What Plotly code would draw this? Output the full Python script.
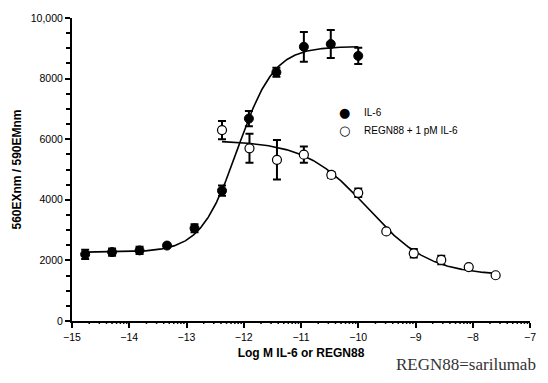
import numpy as np
import plotly.graph_objects as go

# Dose-response data (mean +/- SEM)
log_conc_il6 = [-14.77, -14.30, -13.82, -13.34, -12.86, -12.38, -11.91, -11.43, -10.95, -10.48, -10.00]
il6_signal = [2200, 2275, 2330, 2490, 3060, 4300, 6680, 8210, 9050, 9140, 8750]
il6_sem = [150, 120, 120, 40, 130, 170, 250, 150, 490, 460, 270]

log_conc_regn = [-12.38, -11.90, -11.42, -10.95, -10.47, -10.00, -9.51, -9.03, -8.55, -8.07, -7.60]
regn_signal = [6300, 5700, 5320, 5490, 4820, 4230, 2955, 2235, 2015, 1780, 1510]
regn_sem = [300, 480, 650, 270, 100, 140, 0, 140, 140, 0, 0]

series_names = ["IL-6", "REGN88 + 1 pM IL-6"]

# Four-parameter logistic fit parameters
il6_fit = dict(bottom=2270, top=9060, log_ec50=-12.11, hill=1.35)
regn_fit = dict(bottom=1500, top=5960, log_ec50=-9.84, hill=-0.8)

# Log-spaced minor ticks inside each decade
x_minor = [float(d + np.log10(k)) for d in range(-15, -7) for k in range(2, 10)]


def four_pl(x, bottom, top, log_ec50, hill):
    return bottom + (top - bottom) / (1 + 10 ** ((log_ec50 - x) * hill))


fig = go.Figure()

for xs, p in ((log_conc_il6, il6_fit), (log_conc_regn, regn_fit)):
    xf = np.linspace(min(xs), max(xs), 300)
    fig.add_trace(go.Scatter(x=xf.tolist(), y=four_pl(xf, **p).tolist(), mode="lines",
                             line=dict(color="black", width=1.6)))

err_style = dict(type="data", visible=True, color="black", thickness=2, width=4)

fig.add_trace(go.Scatter(
    x=log_conc_il6, y=il6_signal, mode="markers", name=series_names[0],
    error_y=dict(array=il6_sem, **err_style),
    marker=dict(symbol="circle", size=9, color="black", line=dict(color="black", width=1))))

fig.add_trace(go.Scatter(
    x=log_conc_regn, y=regn_signal, mode="markers", name=series_names[1],
    error_y=dict(array=regn_sem, **err_style),
    marker=dict(symbol="circle", size=9, color="white", line=dict(color="black", width=1.2))))

fig.update_layout(
    width=548, height=383,
    margin=dict(l=72, r=14, t=12, b=62),
    paper_bgcolor="white", plot_bgcolor="white",
    font=dict(family="Liberation Sans, Arial, sans-serif", size=10.5, color="black"),
    showlegend=False,
    xaxis=dict(range=[-15, -7], nticks=10,
               showgrid=False, zeroline=False, showline=True, linecolor="black", linewidth=2,
               ticks="outside", ticklen=5, tickwidth=2, tickcolor="black",
               title=dict(text="<span style='font-size:12px'><b>Log M IL-6 or REGN88</b></span>",
                          standoff=6)),
    yaxis=dict(range=[0, 10000], nticks=6, exponentformat="none", separatethousands=False,
               showgrid=False, zeroline=False, showline=True, linecolor="black", linewidth=2,
               ticks="outside", ticklen=5, tickwidth=2, tickcolor="black",
               minor=dict(ticks="outside", ticklen=4, tickwidth=1.5, tickcolor="black",
                          showgrid=False),
               title=dict(text="<span style='font-size:12px'><b>560EXnm / 590EMnm</b></span>",
                          standoff=6)),
)

# Log-decade minor tick marks on the x axis
for xm in x_minor:
    fig.add_shape(type="line", xref="x", yref="paper", x0=xm, x1=xm, y0=0, y1=-0.0097,
                  line=dict(color="black", width=1.5))

# Key for the two series
for i, (glyph, label) in enumerate(zip(["\u25cf", "\u25cb"], series_names)):
    yk = 0.689 - i * 0.061
    fig.add_annotation(text=glyph, xref="paper", yref="paper", x=0.595, y=yk,
                       xanchor="center", yanchor="middle", showarrow=False,
                       font=dict(family="DejaVu Sans, sans-serif", size=13, color="black"))
    fig.add_annotation(text=label, xref="paper", yref="paper", x=0.634, y=yk,
                       xanchor="left", yanchor="middle", showarrow=False,
                       font=dict(size=10))

fig.add_annotation(text="REGN88=sarilumab", xref="paper", yref="paper",
                   x=1.0, y=-0.142, xanchor="right", yanchor="middle", showarrow=False,
                   xshift=8,
                   font=dict(family="Liberation Serif, Times New Roman, serif", size=17, color="#333333"))

fig.write_html("out.html")
